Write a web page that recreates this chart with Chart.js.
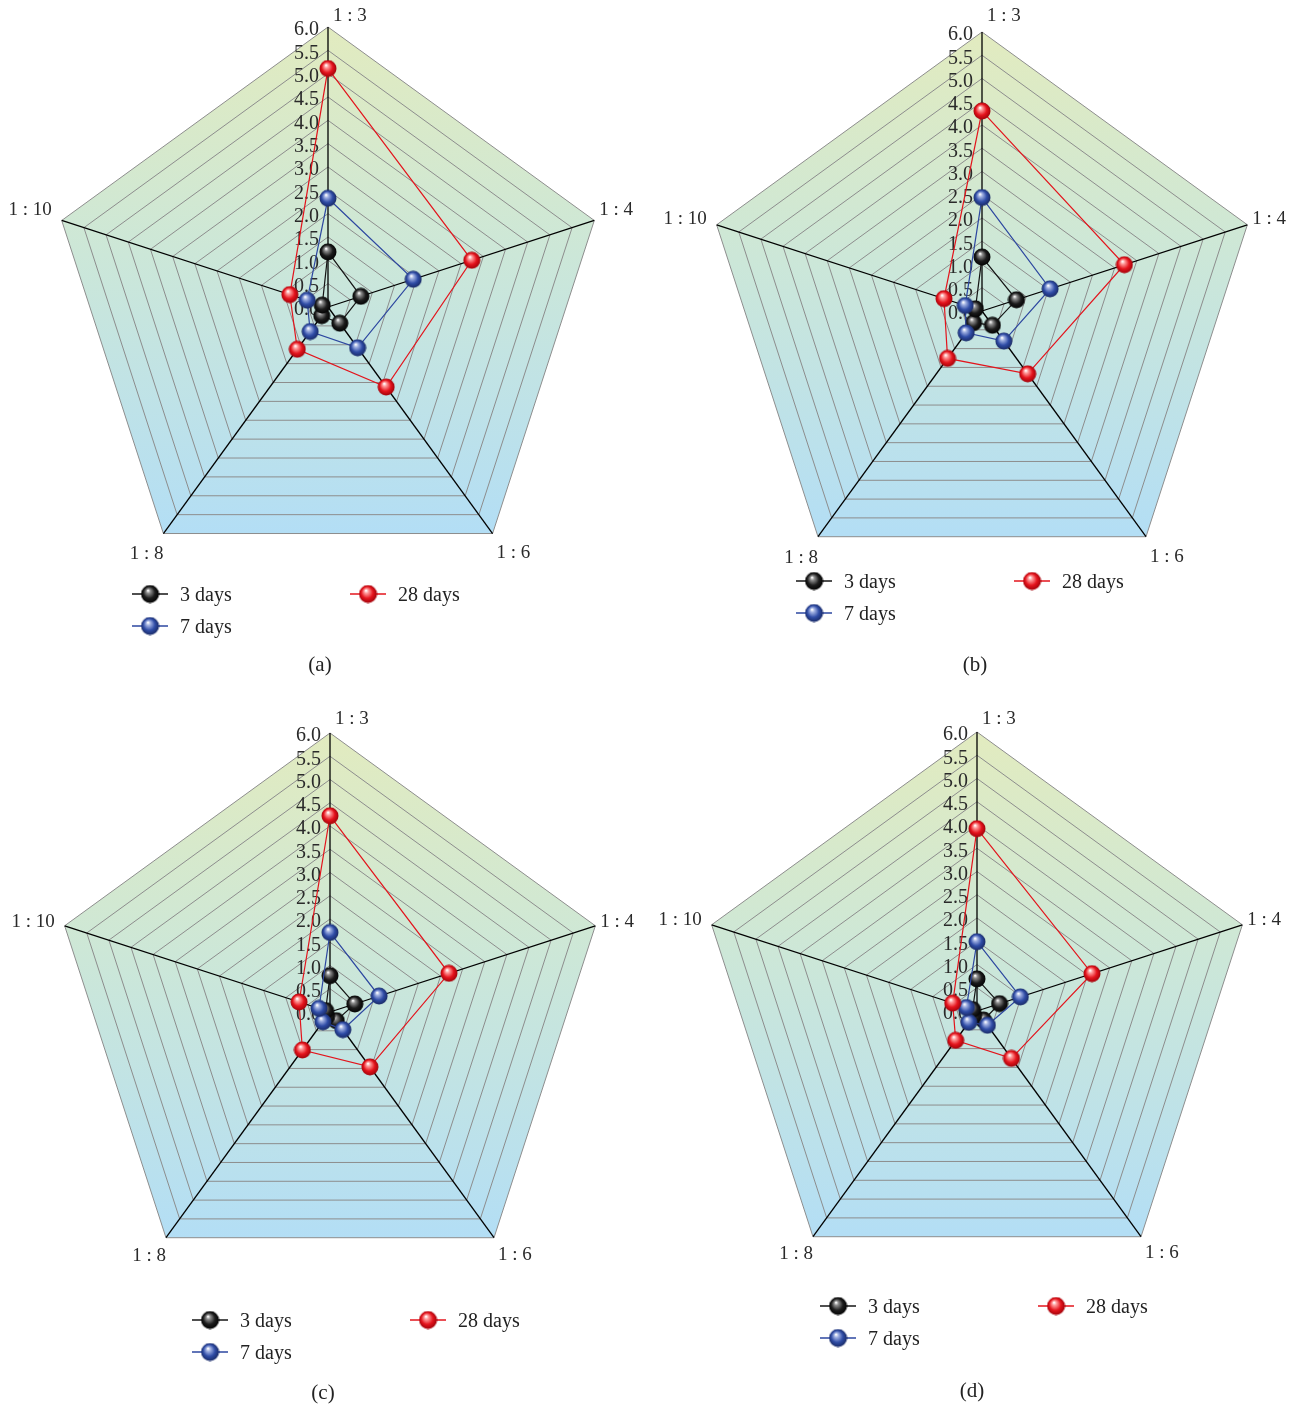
<!DOCTYPE html>
<html>
<head>
<title>Radar charts (a)-(d)</title>
<script src="https://cdn.jsdelivr.net/npm/chart.js"></script>
<style>
    body {
        margin: 0;
        background: #fff;
        font-family: 'Liberation Serif', 'DejaVu Serif', serif;
    }
    #page {
        position: relative;
        width: 1306px;
        height: 1409px;
        overflow: hidden;
    }
    .panel {
        position: absolute;
    }
    .legend-item {
        position: absolute;
        display: flex;
        align-items: center;
        font-size: 20px;
        color: #222;
        white-space: nowrap;
        line-height: 22px;
    }
    .legend-item canvas {
        margin-right: 10px;
    }
    .caption {
        position: absolute;
        font-size: 21px;
        color: #222;
        transform: translate(-50%, -50%);
    }
</style>
</head>
<body>
<div id="page"></div>

<script>
    const categories = ['1 : 3', '1 : 4', '1 : 6', '1 : 8', '1 : 10'];
    const tickValues = [0.0, 0.5, 1.0, 1.5, 2.0, 2.5, 3.0, 3.5, 4.0, 4.5, 5.0, 5.5, 6.0];
    const seriesNames = ['3 days', '7 days', '28 days'];

    // (a)
    const a3 = [1.18, 0.74, 0.43, 0.23, 0.13];
    const a7 = [2.33, 1.92, 1.08, 0.65, 0.47];
    const a28 = [5.11, 3.24, 2.12, 1.12, 0.86];
    // (b)
    const b3 = [1.16, 0.78, 0.38, 0.31, 0.15];
    const b7 = [2.44, 1.54, 0.80, 0.58, 0.38];
    const b28 = [4.30, 3.22, 1.67, 1.26, 0.86];
    // (c)
    const c3 = [0.78, 0.56, 0.23, 0.12, 0.10];
    const c7 = [1.71, 1.11, 0.47, 0.26, 0.25];
    const c28 = [4.22, 2.69, 1.46, 1.01, 0.70];
    // (d)
    const d3 = [0.69, 0.51, 0.24, 0.12, 0.10];
    const d7 = [1.49, 0.98, 0.38, 0.30, 0.24];
    const d28 = [3.92, 2.60, 1.26, 0.78, 0.55];

    const lineColors = ['#151515', '#2d47a0', '#e3141c'];

    // box = canvas left/top/width/height, cx/cy/r = wanted centre and radius on the page
    // shift = small per-panel nudges of the axis names [top dy, side dy, bottom dy]
    const panels = [
        { caption: '(a)', data: [a3, a7, a28], box: [0, 0, 653, 700], cx: 328, cy: 307, r: 280, legend: [150, 594], cap: [320, 664], shift: [3, 1, 0] },
        { caption: '(b)', data: [b3, b7, b28], box: [653, 0, 653, 700], cx: 982, cy: 311, r: 279, legend: [814, 581], cap: [975, 664], shift: [-2, 5, 1] },
        { caption: '(c)', data: [c3, c7, c28], box: [0, 700, 653, 709], cx: 330, cy: 1012, r: 279, legend: [210, 1320], cap: [323, 1392], shift: [0, 7, -2] },
        { caption: '(d)', data: [d3, d7, d28], box: [653, 700, 653, 709], cx: 977, cy: 1011, r: 279, legend: [838, 1306], cap: [972, 1390], shift: [1, 6, -3] }
    ];

    function makeBall(base, light, dark, size) {
        const c = document.createElement('canvas');
        c.width = c.height = size;
        const g = c.getContext('2d');
        const r = size / 2;
        const grad = g.createRadialGradient(r * 0.78, r * 0.62, r * 0.04, r, r, r);
        grad.addColorStop(0, '#ffffff');
        grad.addColorStop(0.2, light);
        grad.addColorStop(0.6, base);
        grad.addColorStop(1, dark);
        g.fillStyle = grad;
        g.beginPath();
        g.arc(r, r, r - 0.5, 0, Math.PI * 2);
        g.fill();
        return c;
    }

    const balls = [
        makeBall('#1c1c1c', '#8e8e8e', '#000000', 18),
        makeBall('#2f4ca6', '#a3b3e3', '#17275f', 18),
        makeBall('#e5141d', '#ff9c9c', '#9a0008', 18)
    ];

    // label offsets from each outer vertex: [dx, dy, align, which shift]
    const labelOffsets = [[5, -14, 'left', 0], [5, -11, 'left', 1], [4, 19, 'left', 2], [0, 20, 'right', 2], [-10, -11, 'right', 1]];

    const radarDecor = {
        id: 'radarDecor',
        beforeDraw(chart) {
            const s = chart.scales.r;
            const ctx = chart.ctx;
            const n = chart.data.labels.length;
            const top = s.yCenter - s.drawingArea;
            const bottom = s.yCenter + s.drawingArea * Math.cos(Math.PI / 5);
            const grad = ctx.createLinearGradient(0, top, 0, bottom);
            grad.addColorStop(0, '#e2ebbf');
            grad.addColorStop(0.45, '#cce7d8');
            grad.addColorStop(1, '#b3def5');
            ctx.save();
            ctx.fillStyle = grad;
            ctx.beginPath();
            for (let i = 0; i < n; i++) {
                const p = s.getPointPositionForValue(i, s.max);
                if (i === 0) ctx.moveTo(p.x, p.y); else ctx.lineTo(p.x, p.y);
            }
            ctx.closePath();
            ctx.fill();
            ctx.restore();
        },
        beforeDatasetsDraw(chart) {
            const s = chart.scales.r;
            const ctx = chart.ctx;
            const shift = chart.options.labelShift || [0, 0, 0];
            ctx.save();
            ctx.fillStyle = '#2a2a2a';
            ctx.font = '20px "Liberation Serif", serif';
            ctx.textAlign = 'right';
            ctx.textBaseline = 'middle';
            s.ticks.forEach(t => {
                const y = s.yCenter - s.getDistanceFromCenterForValue(t.value);
                ctx.fillText(t.value.toFixed(1), s.xCenter - 9, y + 3);
            });
            ctx.font = '19px "Liberation Serif", serif';
            chart.data.labels.forEach((lab, i) => {
                const p = s.getPointPositionForValue(i, s.max);
                const o = labelOffsets[i];
                ctx.textAlign = o[2];
                ctx.fillText(lab, p.x + o[0], p.y + o[1] + shift[o[3]]);
            });
            ctx.restore();
        }
    };

    const page = document.getElementById('page');

    function legendMarker(idx) {
        const c = document.createElement('canvas');
        c.width = 40;
        c.height = 22;
        const g = c.getContext('2d');
        g.strokeStyle = lineColors[idx];
        g.lineWidth = 1.3;
        g.beginPath();
        g.moveTo(2, 11);
        g.lineTo(38, 11);
        g.stroke();
        g.drawImage(balls[idx], 20 - 9.5, 11 - 9.5, 19, 19);
        return c;
    }

    panels.forEach(p => {
        const [left, top, w, h] = p.box;
        const div = document.createElement('div');
        div.className = 'panel';
        div.style.left = left + 'px';
        div.style.top = top + 'px';
        const canvas = document.createElement('canvas');
        canvas.width = w;
        canvas.height = h;
        div.appendChild(canvas);
        page.appendChild(div);

        const padding = {
            left: p.cx - p.r - left,
            top: p.cy - p.r - top,
            right: left + w - (p.cx + p.r),
            bottom: top + h - (p.cy + p.r)
        };

        new Chart(canvas, {
            type: 'radar',
            data: {
                labels: categories,
                datasets: p.data.map((vals, i) => ({
                    label: seriesNames[i],
                    data: vals,
                    borderColor: lineColors[i],
                    borderWidth: 1.2,
                    fill: false,
                    pointStyle: balls[i],
                    pointRadius: 9,
                    order: 3 - i
                }))
            },
            options: {
                responsive: false,
                animation: false,
                labelShift: p.shift,
                layout: { padding: padding },
                plugins: {
                    legend: { display: false },
                    tooltip: { enabled: false }
                },
                elements: { line: { tension: 0 } },
                scales: {
                    r: {
                        min: tickValues[0],
                        max: tickValues[tickValues.length - 1],
                        ticks: { display: false, stepSize: tickValues[1] - tickValues[0] },
                        pointLabels: { display: false },
                        grid: { color: '#8d8d8d', lineWidth: 1 },
                        angleLines: { color: '#000', lineWidth: 1.3 }
                    }
                }
            },
            plugins: [radarDecor]
        });

        // legend: 3 days | 28 days on first row, 7 days below 3 days
        const slots = [[0, 0], [1, 0], [0, 1]];
        slots.forEach((slot, i) => {
            const item = document.createElement('div');
            item.className = 'legend-item';
            item.style.left = (p.legend[0] - 20 + slot[1] * 218) + 'px';
            item.style.top = (p.legend[1] - 11 + slot[0] * 32) + 'px';
            item.appendChild(legendMarker(i));
            const span = document.createElement('span');
            span.textContent = seriesNames[i];
            item.appendChild(span);
            page.appendChild(item);
        });

        const cap = document.createElement('div');
        cap.className = 'caption';
        cap.style.left = p.cap[0] + 'px';
        cap.style.top = p.cap[1] + 'px';
        cap.textContent = p.caption;
        page.appendChild(cap);
    });
</script>
</body>
</html>
